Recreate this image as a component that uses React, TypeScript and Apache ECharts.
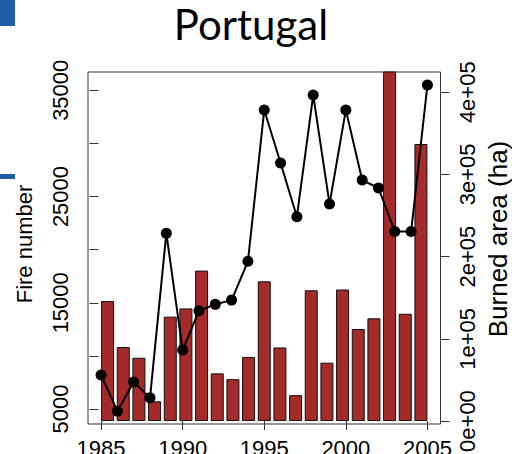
import React, { useEffect, useRef } from "react";
import * as echarts from "echarts";

const years = [1985, 1986, 1987, 1988, 1989, 1990, 1991, 1992, 1993, 1994, 1995, 1996, 1997, 1998, 1999, 2000, 2001, 2002, 2003, 2004, 2005];
const burnedArea = [146000, 90000, 77000, 24000, 127000, 137000, 183000, 58000, 51000, 78000, 170000, 89500, 31500, 159000, 71000, 160000, 112000, 125000, 425700, 130500, 337000];
const fireNumber = [8200, 4800, 7550, 6050, 21550, 10550, 14250, 14850, 15250, 18900, 33150, 28150, 23100, 34550, 24300, 33150, 26550, 25800, 21700, 21700, 35500];
const leftTicks = [5000, 10000, 15000, 20000, 25000, 30000, 35000];
const leftLabels = [5000, 15000, 25000, 35000];
const rightTicks = [0, 100000, 200000, 300000, 400000];
const xTicks = [1985, 1990, 1995, 2000, 2005];

const FONT = "'Liberation Sans', Arial, sans-serif";

export default function App() {
  const ref = useRef<HTMLDivElement>(null);
  useEffect(() => {
    if (!ref.current) return;
    const chart = echarts.init(ref.current, null, { renderer: "svg" });
    const tickStyle = { show: true, length: 9, inside: false, lineStyle: { color: "#333", width: 1 } };
    chart.setOption({
      animation: false,
      backgroundColor: "#fff",
      grid: {
        left: 88, top: 72, right: 71.5, bottom: 30, show: true, borderColor: "#333", borderWidth: 1,
        backgroundColor: "transparent", containLabel: false, outerBoundsMode: "none",
      },
      graphic: [
        { type: "rect", shape: { x: 0, y: 0, width: 15, height: 26 }, style: { fill: "#1F5EA8" } },
        { type: "rect", shape: { x: 0, y: 174, width: 15, height: 5 }, style: { fill: "#1F5EA8" } },
        { type: "text", x: 251, y: 24, style: { text: "Portugal", font: "42px Lato", fill: "#000", textAlign: "center", textVerticalAlign: "middle" } },
        { type: "text", x: 24, y: 244, rotation: Math.PI / 2, style: { text: "Fire number", fontFamily: FONT, fontSize: 22, fill: "#000", textAlign: "center", textVerticalAlign: "middle" } },
        { type: "text", x: 497.5, y: 239, rotation: Math.PI / 2, style: { text: "Burned area (ha)", fontFamily: FONT, fontSize: 26, fill: "#000", textAlign: "center", textVerticalAlign: "middle" } },
      ],
      xAxis: [
        {
          type: "value", min: 1984.2, max: 2005.8, position: "bottom",
          axisLine: { show: false }, splitLine: { show: false },
          axisTick: { ...tickStyle, customValues: xTicks },
          axisLabel: { customValues: xTicks, margin: 13, fontFamily: FONT, fontSize: 22, color: "#000", formatter: (v: number) => String(v) },
        },
        { type: "value", min: -0.8, max: 26.2, show: false },
      ],
      yAxis: [
        {
          type: "value", min: 3590, max: 36720, position: "left",
          axisLine: { show: false }, splitLine: { show: false },
          axisTick: { ...tickStyle, customValues: leftTicks },
          axisLabel: { customValues: leftLabels, rotate: 90, margin: 17, fontFamily: FONT, fontSize: 22, color: "#000", formatter: (v: number) => String(v) },
        },
        {
          type: "value", min: -3600, max: 424600, position: "right",
          axisLine: { show: false }, splitLine: { show: false },
          axisTick: { ...tickStyle, customValues: rightTicks },
          axisLabel: {
            customValues: rightTicks, rotate: 90, margin: 16, fontFamily: FONT, fontSize: 22, color: "#000",
            formatter: (v: number) => {
              if (v === 0) return "0e+00";
              const e = Math.floor(Math.log10(v));
              const m = Math.round(v / Math.pow(10, e));
              return `${m}e+${String(e).padStart(2, "0")}`;
            },
          },
        },
      ],
      series: [
        {
          type: "bar", xAxisIndex: 1, yAxisIndex: 1, barWidth: 13, clip: true,
          data: burnedArea.map((v, i) => [0.7 + 1.2 * i, v]),
          itemStyle: { color: "#A52A2A", borderColor: "#111", borderWidth: 1 },
          z: 1,
        },
        {
          type: "line", xAxisIndex: 0, yAxisIndex: 0,
          data: years.map((y, i) => [y, fireNumber[i]]),
          lineStyle: { color: "#000", width: 2 },
          itemStyle: { color: "#000" },
          symbol: "circle", symbolSize: 11, showSymbol: true,
          z: 3,
        },
      ],
    });
    return () => chart.dispose();
  }, []);
  return <div ref={ref} style={{ position: "fixed", left: 0, top: 0, width: 512, height: 454 }} />;
}
